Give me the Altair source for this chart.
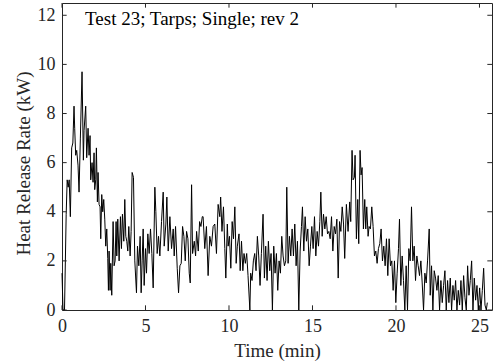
import altair as alt
import pandas as pd

# ---- data (time in min, HRR in kW) ----
time_a = [0.00, 0.06, 0.15, 0.25, 0.31, 0.37, 0.43, 0.50, 0.58, 0.65,
          0.72, 0.76, 0.82, 0.88, 0.96, 1.02, 1.10, 1.20, 1.28, 1.32,
          1.42, 1.48, 1.56, 1.62, 1.68, 1.72, 1.80, 1.86, 1.92, 1.96,
          2.02, 2.06, 2.12, 2.16, 2.22, 2.28, 2.32, 2.38, 2.44, 2.50,
          2.56, 2.62, 2.68, 2.74, 2.78, 2.82, 2.88, 2.92, 2.98, 3.06,
          3.12, 3.18, 3.24, 3.28, 3.34, 3.42, 3.50, 3.56, 3.62, 3.70,
          3.76, 3.82, 3.88, 3.94, 4.00, 4.08, 4.14, 4.20, 4.28, 4.36,
          4.46, 4.52, 4.60, 4.68, 4.74, 4.80, 4.86, 4.92, 5.00, 5.06,
          5.14, 5.22, 5.30, 5.38, 5.46, 5.56, 5.62, 5.70, 5.78, 5.86,
          5.96, 6.06, 6.12, 6.22, 6.28, 6.36, 6.46, 6.56, 6.66, 6.72,
          6.80, 6.90, 6.98, 7.06, 7.14, 7.22, 7.30, 7.38, 7.46, 7.54,
          7.62, 7.68, 7.76, 7.82, 7.92, 8.00, 8.06, 8.16, 8.24, 8.32,
          8.40]
hrr_a = [1.5, 0.0, 0.0, 3.9, 5.3, 5.0, 5.3, 3.8, 6.6, 6.8,
         8.3, 7.4, 6.3, 6.5, 5.9, 4.8, 7.0, 9.7, 6.1, 7.3,
         8.3, 6.2, 7.4, 6.3, 7.1, 5.3, 6.0, 5.2, 6.4, 4.9,
         5.3, 6.6, 4.4, 5.6, 4.3, 4.2, 2.9, 4.7, 4.0, 4.5,
         3.7, 2.6, 3.3, 2.1, 0.8, 2.4, 0.8, 1.9, 0.6, 3.6,
         1.8, 2.0, 3.6, 2.2, 3.7, 2.0, 3.8, 2.5, 3.9, 2.8,
         4.5, 3.0, 2.8, 2.4, 3.4, 2.2, 3.2, 5.6, 5.4, 2.0,
         0.7, 2.6, 1.8, 3.0, 0.7, 2.0, 3.3, 1.0, 2.5, 1.5,
         3.1, 2.3, 3.3, 2.3, 0.9, 5.0, 4.0, 2.3, 3.0, 2.2,
         3.6, 4.8, 2.6, 3.5, 4.6, 2.4, 3.8, 2.5, 3.3, 2.2,
         3.4, 1.7, 0.7, 1.8, 1.9, 3.4, 3.0, 2.0, 3.2, 2.9,
         1.5, 1.1, 5.1, 2.3, 2.8, 2.2, 3.2, 2.4, 3.6, 3.4,
         3.8]

time_b = [8.45, 8.55, 8.65, 8.75, 8.85, 8.95, 9.05, 9.15, 9.25, 9.35,
          9.45, 9.50, 9.58, 9.67, 9.75, 9.81, 9.90, 9.95, 10.03, 10.11,
          10.19, 10.27, 10.35, 10.43, 10.50, 10.60, 10.67, 10.75, 10.83, 10.90,
          10.98, 11.06, 11.14, 11.25, 11.30, 11.38, 11.46, 11.54, 11.62, 11.70,
          11.78, 11.86, 11.94, 12.04, 12.12, 12.20, 12.28, 12.36, 12.44, 12.52,
          12.60, 12.68, 12.76, 12.84, 12.92, 13.00, 13.08, 13.16, 13.24, 13.32,
          13.40, 13.46, 13.54, 13.62, 13.70, 13.78, 13.86, 13.94, 14.02, 14.10,
          14.18, 14.26, 14.34, 14.40, 14.48, 14.56, 14.64, 14.72, 14.80, 14.88,
          14.96, 15.04, 15.12, 15.20, 15.28, 15.36, 15.44, 15.50, 15.58, 15.66,
          15.74, 15.82, 15.90, 15.98, 16.06, 16.14, 16.22, 16.30, 16.38, 16.46,
          16.54, 16.62, 16.70, 16.78, 16.86]
hrr_b = [3.8, 2.5, 3.4, 1.4, 3.0, 2.6, 3.4, 3.5, 2.3, 4.3,
         3.8, 4.6, 3.2, 4.2, 2.5, 1.3, 3.5, 2.6, 3.0, 1.7,
         3.6, 2.9, 4.2, 1.9, 2.6, 3.1, 1.6, 2.8, 1.6, 2.3,
         1.9, 2.3, 1.4, 0.0, 1.5, 1.2, 2.0, 2.3, 1.6, 3.0,
         2.2, 1.0, 2.3, 3.9, 1.3, 2.6, 1.2, 2.8, 1.6, 2.3,
         0.0, 2.6, 1.5, 2.3, 0.8, 2.0, 1.5, 3.0, 2.2, 1.8,
         2.0, 5.0, 1.9, 3.0, 2.2, 3.3, 2.2, 3.5, 1.8, 2.8,
         0.0, 2.4, 3.4, 4.2, 2.4, 3.8, 2.8, 3.3, 1.8, 2.6,
         3.4, 2.5, 3.8, 2.2, 3.2, 2.6, 3.6, 4.8, 3.0, 3.9,
         3.3, 3.8, 3.1, 3.2, 2.9, 3.8, 2.4, 3.4, 3.1, 3.7,
         1.3, 3.6, 3.2, 4.2, 3.5]

time_c = [16.93, 17.03, 17.13, 17.23, 17.29, 17.37, 17.43, 17.51, 17.55, 17.63,
          17.71, 17.77, 17.85, 17.91, 17.97, 18.05, 18.13, 18.19, 18.25, 18.33,
          18.39, 18.47, 18.55, 18.63, 18.71, 18.79, 18.87, 18.95, 19.03, 19.11,
          19.19, 19.27, 19.35, 19.43, 19.51, 19.59, 19.67, 19.75, 19.83, 19.91,
          19.99, 20.07, 20.15, 20.21, 20.29, 20.37, 20.45, 20.53, 20.61, 20.69,
          20.77, 20.85, 20.93, 21.01, 21.09, 21.17, 21.25, 21.33, 21.41, 21.49,
          21.57, 21.65, 21.73, 21.81, 21.89, 21.99, 22.05, 22.13, 22.21, 22.29,
          22.37, 22.45, 22.53, 22.61, 22.69, 22.77, 22.85, 22.93, 23.01, 23.09,
          23.17, 23.25, 23.33, 23.41, 23.49, 23.57, 23.65, 23.73, 23.81, 23.89,
          23.97, 24.05, 24.13, 24.21, 24.29, 24.37, 24.45, 24.53, 24.61, 24.69,
          24.77, 24.85, 24.93, 25.01, 25.09, 25.17, 25.25, 25.33, 25.41, 25.47]
hrr_c = [2.1, 4.3, 3.2, 4.4, 3.6, 6.5, 5.3, 5.4, 6.3, 2.9,
         4.5, 2.7, 6.5, 5.5, 5.8, 3.3, 4.5, 3.3, 4.2, 3.0,
         3.4, 3.3, 4.2, 3.4, 2.2, 2.4, 1.9, 2.5, 2.7, 3.3,
         2.0, 2.6, 1.8, 2.9, 1.4, 2.9, 1.8, 2.0, 0.8, 2.0,
         0.3, 1.5, 2.5, 3.7, 1.0, 2.2, 1.2, 0.0, 1.8, 0.0,
         2.5, 2.0, 4.2, 2.0, 2.6, 1.2, 2.2, 1.8, 1.4, 2.0,
         1.1, 0.0, 1.5, 1.1, 2.0, 3.3, 0.6, 1.8, 0.0, 1.6,
         1.3, 0.8, 1.4, 0.0, 1.2, 0.3, 1.0, 1.6, 0.0, 1.2,
         0.3, 1.3, 0.0, 1.0, 0.4, 1.2, 0.0, 0.8, 0.2, 1.2,
         0.0, 1.4, 0.5, 0.0, 1.8, 0.6, 1.2, 2.0, 0.0, 1.3,
         0.4, 1.0, 0.0, 0.9, 0.0, 0.8, 1.7, 0.2, 0.0, 0.3]

x_ticks = [0, 5, 10, 15, 20, 25]
y_ticks = [0, 2, 4, 6, 8, 10, 12]
x_max = 25.75
y_max = 12.5
annotation = ["Test 23; Tarps; Single; rev 2"]

time_min = time_a + time_b + time_c
hrr_kw = hrr_a + hrr_b + hrr_c
assert len(time_min) == len(hrr_kw)

df = pd.DataFrame({"t": time_min, "q": hrr_kw})
FONT = "Liberation Serif"
AX = "#262626"

xscale = alt.Scale(domain=[0, x_max], nice=False, zero=False)
yscale = alt.Scale(domain=[0, y_max], nice=False, zero=False)

x_axis = alt.Axis(title="Time (min)", values=x_ticks, ticks=False, domain=False,
                  grid=False, labelFont=FONT, labelFontSize=18, labelColor=AX,
                  labelPadding=7, labelFlush=False, labelOverlap=False,
                  titleFont=FONT, titleFontSize=19, titleFontWeight="normal",
                  titleColor=AX, titlePadding=6, format="d")
y_axis = alt.Axis(title="Heat Release Rate (kW)", values=y_ticks, ticks=False,
                  domain=False, grid=False, labelFont=FONT, labelFontSize=18,
                  labelColor=AX, labelPadding=7, labelOverlap=False,
                  titleFont=FONT, titleFontSize=19, titleFontWeight="normal",
                  titleColor=AX, titlePadding=4, titleY=160, format="d")

line = alt.Chart(df).mark_line(color="black", strokeWidth=1).encode(
    x=alt.X("t:Q", scale=xscale, axis=x_axis),
    y=alt.Y("q:Q", scale=yscale, axis=y_axis),
)

xt = pd.DataFrame({"v": x_ticks})
yt = pd.DataFrame({"v": y_ticks})
tick_y_len = 0.19
tick_x_len = 0.28

xt_bottom = alt.Chart(xt).mark_rule(color=AX, strokeWidth=1).encode(
    x=alt.X("v:Q", scale=xscale, axis=x_axis),
    y=alt.datum(0), y2=alt.datum(tick_y_len))
xt_top = alt.Chart(xt).mark_rule(color=AX, strokeWidth=1).encode(
    x=alt.X("v:Q", scale=xscale, axis=x_axis),
    y=alt.datum(y_max - tick_y_len), y2=alt.datum(y_max))
yt_left = alt.Chart(yt).mark_rule(color=AX, strokeWidth=1).encode(
    y=alt.Y("v:Q", scale=yscale, axis=y_axis),
    x=alt.datum(0), x2=alt.datum(tick_x_len))
yt_right = alt.Chart(yt).mark_rule(color=AX, strokeWidth=1).encode(
    y=alt.Y("v:Q", scale=yscale, axis=y_axis),
    x=alt.datum(x_max - tick_x_len), x2=alt.datum(x_max))

label = alt.Chart(pd.DataFrame({"label": annotation})).mark_text(
    align="left", baseline="alphabetic", font=FONT, fontSize=19, color="black"
).encode(x=alt.datum(1.38), y=alt.datum(11.62), text="label:N")

chart = alt.layer(line, xt_bottom, xt_top, yt_left, yt_right, label).properties(
    width=430, height=307,
    autosize=alt.AutoSizeParams(type="none"),
    padding={"left": 62, "top": 3, "right": 2, "bottom": 54},
    background="white",
).configure_view(stroke=AX, strokeWidth=1)

chart.save("out.html", embed_options={"renderer": "svg", "actions": False})
